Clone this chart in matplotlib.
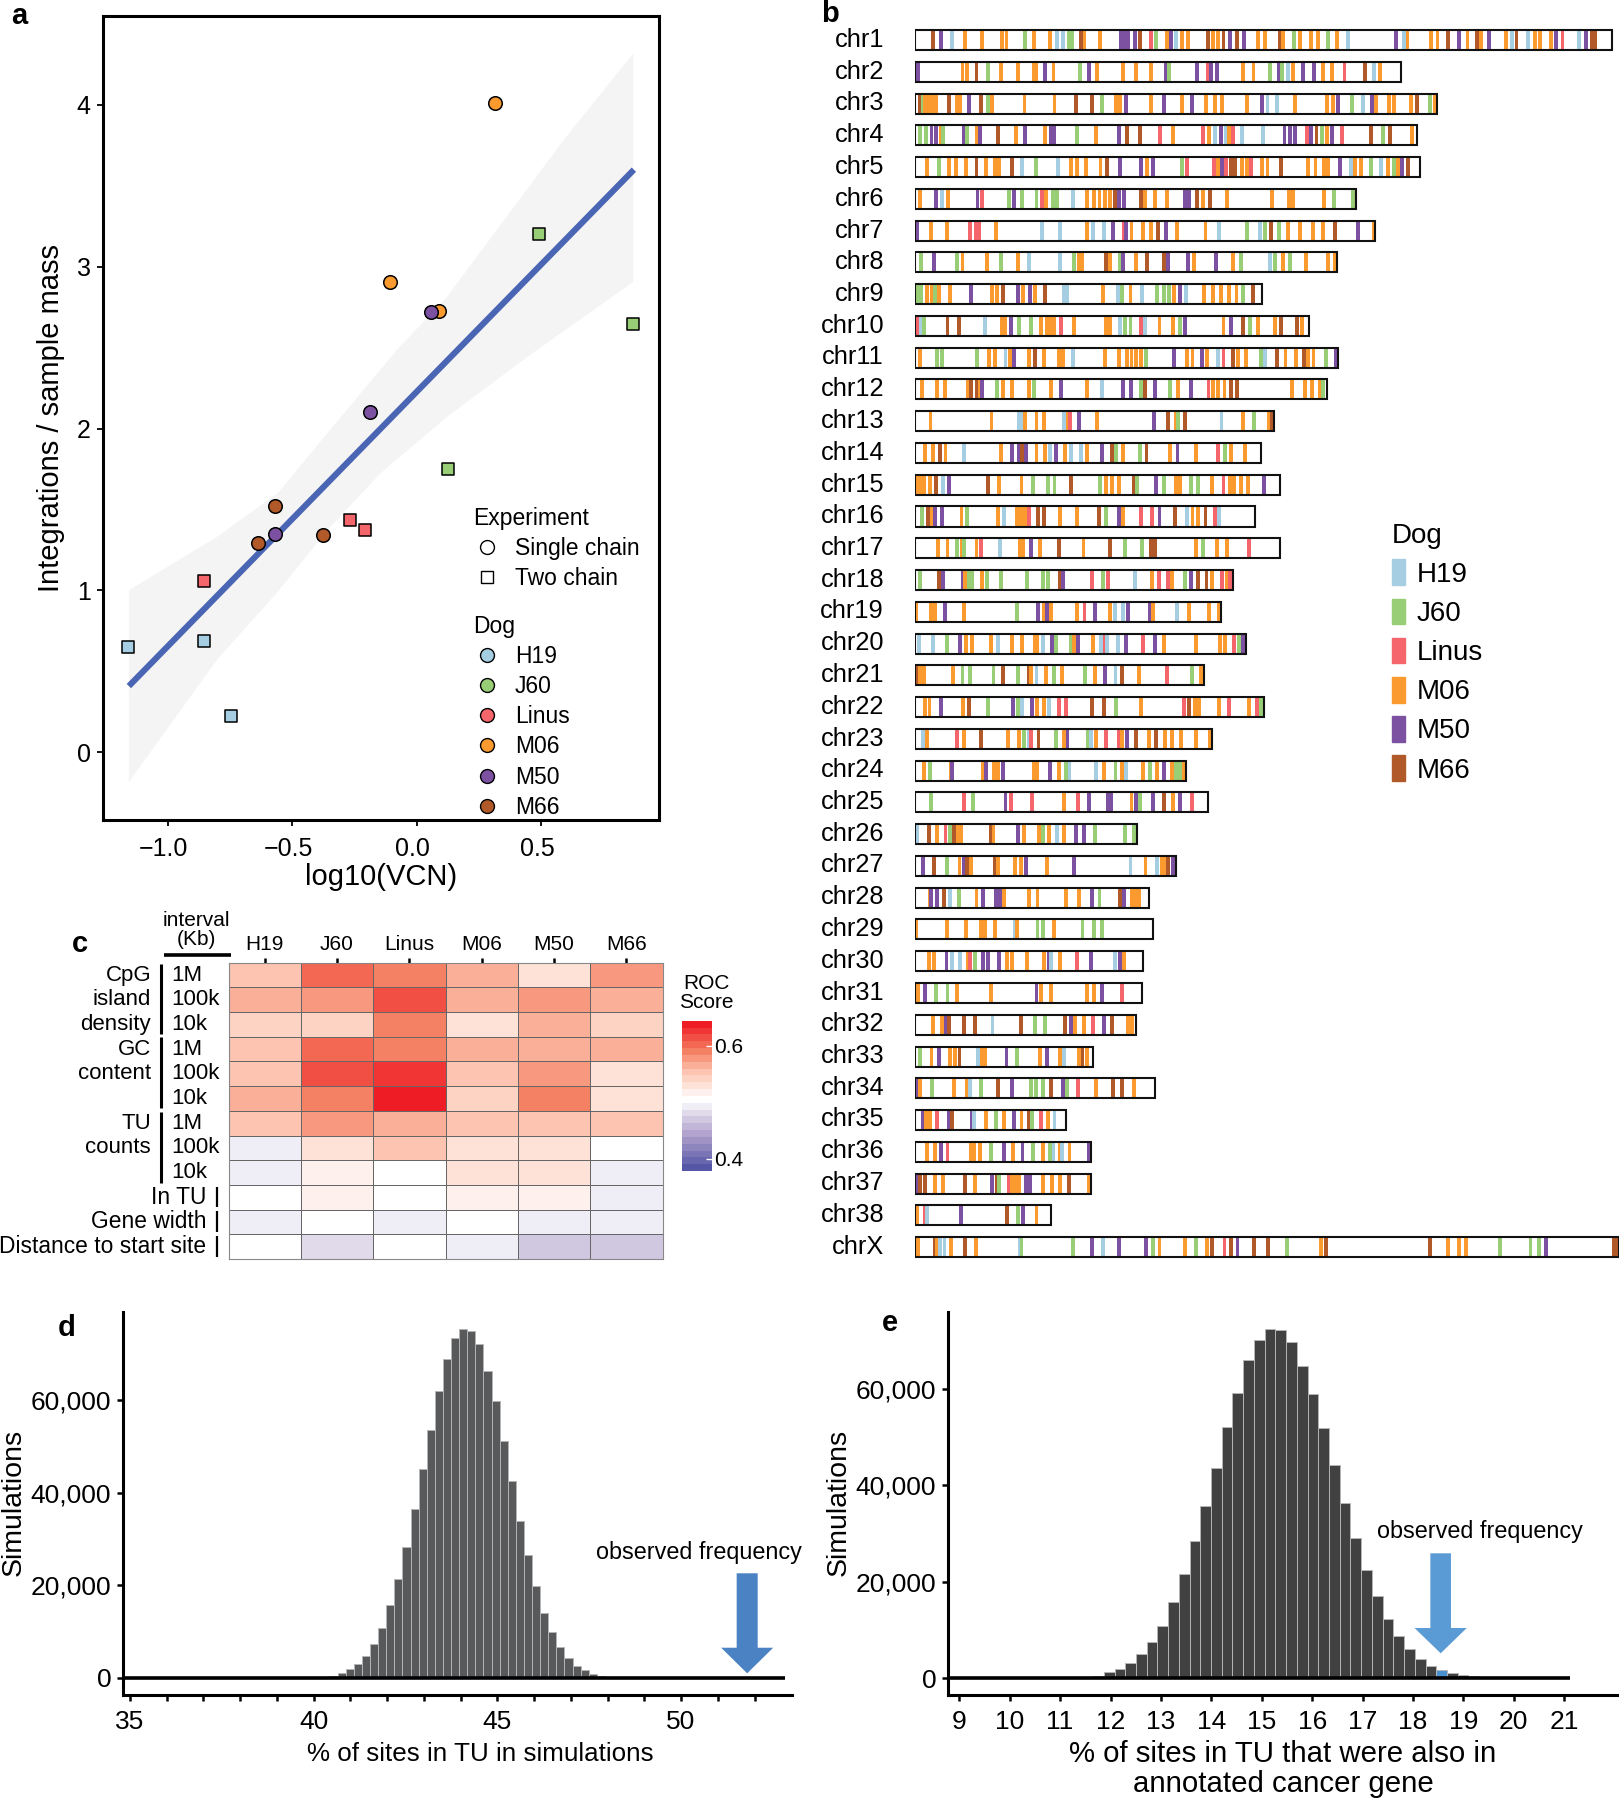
import numpy as np
import matplotlib
matplotlib.use("Agg")
import matplotlib.pyplot as plt
from matplotlib.colors import LinearSegmentedColormap
from matplotlib.lines import Line2D
from matplotlib.patches import FancyArrow, Patch
from matplotlib.transforms import ScaledTranslation

plt.rcParams['font.family'] = ['Liberation Sans', 'DejaVu Sans']

W = 1619
H = 1800

dog_names = ['H19', 'J60', 'Linus', 'M06', 'M50', 'M66']
dog_colors = ['#A6CEE3', '#98CE76', '#F4666B', '#FB9A2F', '#7D51A1', '#B15928']

# panel a
h19_vcn = [-1.16, -0.857, -0.746]
h19_int = [0.65, 0.685, 0.224]
linus_vcn = [-0.857, -0.267, -0.206]
linus_int = [1.06, 1.434, 1.37]
j60_vcn = [0.125, 0.491, 0.869]
j60_int = [1.75, 3.2, 2.644]
m06_vcn = [0.314, -0.106, 0.09]
m06_int = [4.014, 2.903, 2.726]
m50_vcn = [0.059, -0.186, -0.57]
m50_int = [2.72, 2.1, 1.349]
m66_vcn = [-0.57, -0.639, -0.376]
m66_int = [1.52, 1.295, 1.342]
fit_x = [-1.157, 0.873]
fit_y = [0.408, 3.60]
ci_hi_x = [-1.157, -0.803, -0.559, -0.349, -0.08, 0.12, 0.589, 0.871]
ci_hi = [1.0, 1.33, 1.60, 1.99, 2.485, 2.81, 3.78, 4.32]
ci_lo_x = [-1.157, -0.803, -0.559, -0.349, -0.148, 0.12, 0.455, 0.871]
ci_lo = [-0.185, 0.57, 0.99, 1.39, 1.72, 2.07, 2.454, 2.907]

dog_keys = {'H': 0, 'J': 1, 'L': 2, 'O': 3, 'P': 4, 'B': 5}
chr_names = ['chr%d' % i for i in range(1, 39)] + ['chrX']
chr_start = 203
chr_end = [1552, 1143, 1213, 1174, 1180, 1056, 1094, 1020, 875, 965, 1021, 1000, 898,
           873, 909, 860, 909, 818, 795, 843, 763, 879, 778, 728, 770, 632, 708, 656,
           664, 645, 642, 630, 548, 667, 495, 543, 543, 466, 1565]

chr1_sites = "238B 253P 275H 300O 333O 372O 380O 416J 434O 465O 478H 489H 500J 507J 524B 531O 561O 602P 608P 616P 628P 639B 660L 669J 690O 698P 708H 720O 732O 770B 780O 790O 800B 813P 826B 840P 866O 880O 910B 915O 937J 948O 970O 982O 1003J 1020O 1041H 1133P 1150H 1156O 1201O 1214O 1235B 1256P 1272O 1290B 1298O 1313P 1347O 1358H 1367B 1389H 1403O 1412O 1433O 1444P 1456L 1488H 1501P 1513B 1519B".split()
chr2_sites = "209P 295O 303O 322B 344J 369O 402O 434O 438O 454P 471O 523J 540P 556O 606O 630O 660O 688P 695J 748P 770L 775P 787P 838O 858O 890J 908P 913J 925H 935O 953P 975P 992O 1010O 1034L 1073B 1091H 1102O".split()
chr3_sites = "212B 218J 222O 230O 238O 243O 269B 284O 291O 308P 331B 345J 352O 415O 473O 515B 545B 564J 592O 600O 611P 660O 684P 720O 739P 766O 783O 797O 845O 875P 885H 904H 939O 1000O 1012O 1022P 1048J 1070H 1088P 1095O 1120O 1130O 1162O 1174B 1200J 1210O".split()
chr4_sites = "212J 224J 235P 243P 253O 258J 297P 303J 322O 328P 363B 398O 416P 454O 467P 473P 516J 553O 598P 614B 638B 677L 703O 760L 772O 783H 795P 804H 810O 818L 835H 876H 918P 928P 938P 962L 970P 980B 990J 1000O 1010P 1030L 1086B 1109J 1122B 1165O".split()
chr5_sites = "226O 250J 268O 282O 302O 322B 341O 358O 366O 391B 410H 437J 479H 505O 517O 534O 562O 574B 600P 640P 652O 664P 720J 729L 782L 790O 797P 804L 815B 822B 835O 845O 853L 875O 885O 912B 964O 978O 995O 1002O 1026P 1047H 1055O 1066O 1085J 1105H 1118O 1130J 1138O 1145P 1157B".split()
chr6_sites = "213O 244P 255H 267O 324P 333L 385J 395P 410J 438J 448L 457O 470J 478J 509H 535O 550O 560O 570O 580O 590B 598P 608P 640B 648O 668O 690O 725P 733P 748B 760O 773B 807O 893O 926O 935O 995O 1014J 1050J".split()
chr7_sites = "207P 234O 265O 310L 321L 327L 360O 448H 484H 536O 548H 569H 586P 607L 612P 622O 645O 660O 673B 688P 710O 765O 792H 845J 870H 880J 892B 908J 925O 948O 973O 993O 1015B 1060P 1092O".split()
chr8_sites = "215J 240P 284J 295O 342O 369J 402O 423H 483H 511J 520O 526O 572B 580O 600J 606P 630O 652B 684B 692P 732P 743O 786P 818O 834J 890H 900J 915O 928J 960O 1003O 1015O".split()
chr9_sites = "208J 215J 226O 235O 242J 250O 270O 312P 352O 362O 374B 402P 412O 426P 436O 455B 492H 498H 566O 595H 603J 620O 643H 672J 684J 695J 705O 716P 727H 763O 780O 795O 810O 825O 838J 857B".split()
chr10_sites = "207L 215H 221J 266B 288B 338H 372O 378O 388P 405J 428J 447O 458O 467O 473O 486L 511O 572O 580O 600H 610J 620J 640L 648H 676O 702O 716J 725P 800O 815P 838B 851J 867O 900O 912B 943B 952O".split()
chr11_sites = "212O 245J 256J 323J 346O 357O 378H 386O 395P 424O 435B 452O 482O 490O 509H 571O 598O 614O 622O 630O 640O 650J 704P 730O 740O 758P 768O 790H 800L 818B 828O 843O 872J 880H 904B 920O 940O 956B 964O 974O 999J 1017P".split()
chr12_sites = "217O 245O 261O 305O 312B 322B 328O 333P 362J 374O 391O 423O 433J 466O 486P 536O 565H 606P 621P 640J 648B 667P 696J 712O 737P 771L 780O 790O 802O 815B 826B 933O 958O 972O 986O 992J".split()
chr13_sites = "233O 351O 404H 410H 416O 438O 452O 491H 498O 503L 520P 555O 666P 692B 707O 712J 725B 796H 838O 859J 887O 894B".split()
chr14_sites = "223O 238O 252B 262O 298H 369O 390P 404P 410B 417P 438O 455O 465H 475P 493O 505H 525H 536O 565P 584B 592J 605O 638J 651B 696O 711P 746O 790L 803J 815O 842O".split()
chr15_sites = "209O 215O 221O 232O 243B 257H 269P 345B 365O 409O 431J 460J 473J 505B 561J 572O 584O 597O 627B 632J 670P 684J 708O 716O 737J 751J 778O 800L 813O 821O 834O 847O 879P".split()
chr16_sites = "216J 228B 235O 242P 255P 293O 303J 364O 375H 400O 408O 416O 424L 441B 453B 483O 516O 559B 572J 597P 605O 640L 662L 676P 706B 729H 740O 750O 765B 783L 791H".split()
chr17_sites = "247O 266O 284J 293O 298J 322O 331L 367H 406O 412O 427P 445O 481B 529O 581B 609J 643J 660B 668B 747O 761J 788O 807O 850L".split()
chr18_sites = "213J 250B 258P 295P 300O 308J 313J 333O 342J 370J 420J 451J 460J 483B 490P 545L 566J 576L 628H 662O 675L 693L 700O 726J 737P 750B 767B 778O 797L 806O 813L".split()
chr19_sites = "205O 234O 242O 261P 297O 401J 441P 452O 458P 466O 516O 531L 552P 580O 590H 606H 615P 658P 663O 710H 733O 772O 791O".split()
chr20_sites = "211H 237H 265J 290P 302O 313O 350O 363H 390O 410O 435O 440O 451H 468P 476J 505J 510O 519P 547O 563H 570L 575H 595H 612P 645L 668P 685O 746O 793O 803O 820L 830J 838P".split()
chr21_sites = "207B 213O 221O 276O 295J 310J 355J 373B 403J 423B 428O 438H 456O 472J 487O 532J 552O 571P 591H 603B 636O 690L 739J 757O".split()
chr22_sites = "222O 231O 253P 296O 308B 345J 393P 403J 410H 430P 439O 453O 463H 482L 495L 546B 569B 592J 641O 723L 734B 745O 753O 791O 810L 849O 865L 873J".split()
chr23_sites = "218H 227O 284L 297O 331B 383O 405O 414J 423H 428L 442B 476J 492O 498P 537J 543H 553O 572L 597L 603O 614P 631B 655O 670B 687O 700O 717O 747O 773O".split()
chr24_sites = "221O 232J 272O 275P 334O 341P 356O 364O 373P 433O 440O 464P 481O 495J 502H 553H 568O 591J 603O 612H 644O 658J 671O 684P 700O 708J 715J 723O".split()
chr25_sites = "234J 297L 316J 378P 389L 429L 491O 518L 540P 576P 583P 622O 630P 639J 664P 684B 703O 716P 739L".split()
chr26_sites = "207H 230B 245O 262L 270J 279B 287O 293O 350B 355O 402P 414O 443O 451J 462O 477H 491O 515P 530P 551J 610J 627J".split()
chr27_sites = "219P 240B 265J 289O 298P 303B 311O 357B 363O 396O 408O 418P 458O 511P 620H 649O 672H 680O 686O 693B 702P".split()
chr28_sites = "231O 234P 245P 259B 270H 288J 322O 335P 360P 368P 375O 423O 440O 496O 520O 546P 560J 599B 608P 622O 628O 636O".split()
chr29_sites = "205O 265O 301O 331O 339O 358O 396H 401O 440J 451J 472O 527J 550J 564J".split()
chr30_sites = "230O 240O 264P 274H 290H 305O 309L 319J 334P 344P 366P 381O 391O 419O 452O 463P 467H 483O 517L 544P 590H 599P 607O".split()
chr31_sites = "209O 223P 244J 266J 285O 350O 438P 446O 467O 535O 549O 565P 604L".split()
chr32_sites = "237O 255O 262P 268B 297B 319B 353H 408B 436J 454J 493B 505P 513O 530O 547L 568P 584B 616O 623O".split()
chr33_sites = "213J 235O 250P 270O 280O 289B 325H 333O 339O 380P 400J 445O 458P 484O 491H 520O 527B 535O".split()
chr34_sites = "209P 213O 236J 278O 303O 310H 331J 364B 391P 428J 437J 451J 467B 490P 497J 518L 554O 586B 603B 627O".split()
chr35_sites = "218P 225O 232O 246L 268P 275B 313P 318H 340O 360J 376O 394P 409O 424B 430J 447L 460O 473H".split()
chr36_sites = "226O 241O 253P 266L 311O 318O 329O 350J 375P 392O 411P 431J 451O 465J 471H 483O 488H 502O 540P".split()
chr37_sites = "207P 212B 222B 242O 258O 300B 319O 352P 362B 365J 385L 391O 399O 405O 417P 425P 450O 468O 483O 501B 540O".split()
chr38_sites = "207O 222L 227H 292P 381B 402J 412P 438O".split()
chrX_sites = "209O 241B 246O 252H 260H 272O 300B 321O 407H 409J 508J 546P 566H 598P 650P 664J 676O 725O 746J 768O 778B 802L 815B 827P 859B 886B 923J 988O 999B 1199B 1235O 1256O 1269O 1335J 1394J 1411J 1424P 1556B 1560B".split()

chr_sites = [chr1_sites, chr2_sites, chr3_sites, chr4_sites, chr5_sites, chr6_sites, chr7_sites,
             chr8_sites, chr9_sites, chr10_sites, chr11_sites, chr12_sites, chr13_sites, chr14_sites,
             chr15_sites, chr16_sites, chr17_sites, chr18_sites, chr19_sites, chr20_sites, chr21_sites,
             chr22_sites, chr23_sites, chr24_sites, chr25_sites, chr26_sites, chr27_sites, chr28_sites,
             chr29_sites, chr30_sites, chr31_sites, chr32_sites, chr33_sites, chr34_sites, chr35_sites,
             chr36_sites, chr37_sites, chr38_sites, chrX_sites]

# panel c
roc_scores = [
    [.555, .600, .585, .565, .535, .575],
    [.570, .580, .610, .560, .575, .570],
    [.545, .545, .590, .530, .570, .545],
    [.550, .605, .595, .565, .570, .560],
    [.555, .610, .620, .550, .580, .535],
    [.565, .595, .644, .540, .595, .530],
    [.550, .575, .565, .555, .555, .550],
    [.494, .530, .550, .525, .530, .503],
    [.498, .522, .508, .525, .525, .488],
    [.507, .518, .505, .520, .520, .488],
    [.492, .508, .498, .505, .498, .495],
    [.507, .478, .505, .488, .472, .470],
]
interval_labels = ['1M', '100k', '10k', '1M', '100k', '10k', '1M', '100k', '10k']
group_labels = ['CpG', 'island', 'density', 'GC', 'content', '', 'TU', 'counts', '']
single_labels = ['In TU', 'Gene width', 'Distance to start site']

# panel d
d_first_bin = 40.54
d_bin = 0.2206
d_counts = [500, 1150, 1870, 3090, 4750, 7410, 10860, 15680, 21440, 28270, 36550, 45110, 53450,
            61940, 68920, 73310, 75250, 74960, 72160, 66330, 59780, 51150, 42590, 33810, 26470,
            19930, 14100, 9930, 6690, 4390, 2590, 1650, 860, 430]
d_observed = 51.8

# panel e
e_first_bin = 11.76
e_bin = 0.2128
e_counts = [480, 1170, 1800, 3040, 4970, 7530, 10780, 15820, 21550, 28390, 35650, 43590, 52020,
            59130, 65830, 70120, 72330, 72120, 69700, 64660, 58790, 51880, 44070, 36200, 28950,
            22310, 17060, 12300, 8770, 6010, 3940, 2560, 1660, 1040, 550, 350, 200]
e_observed = 18.55
e_observed_bin = 32


def px_axes(left, top, right, bottom):
    return fig.add_axes([left / W, 1 - bottom / H, (right - left) / W, (bottom - top) / H])


fig = plt.figure(figsize=(W / 100, H / 100), dpi=100)

ov = fig.add_axes([0, 0, 1, 1], zorder=5)
ov.set_xlim(0, W)
ov.set_ylim(H, 0)
ov.axis('off')
ov.patch.set_alpha(0)

for letter, x, y in [('a', 19, 16), ('b', 830, 14), ('c', 80, 944), ('d', 67, 1328), ('e', 890, 1323)]:
    ov.text(x, y, letter, fontsize=21, fontweight='bold', ha='center', va='center')

# a
ax = px_axes(103, 16, 659, 820)
ax.set_xlim(-1.261, 0.974)
ax.set_ylim(-0.42, 4.55)
ax.fill(ci_hi_x + ci_lo_x[::-1], ci_hi + ci_lo[::-1], color='#F4F4F4', lw=0)
ax.plot(fit_x, fit_y, color='#4A65B3', lw=4.4, solid_capstyle='butt')
square_groups = [(h19_vcn, h19_int, 0), (j60_vcn, j60_int, 1), (linus_vcn, linus_int, 2)]
circle_groups = [(m06_vcn, m06_int, 3), (m50_vcn, m50_int, 4), (m66_vcn, m66_int, 5)]
for xs, ys, c in square_groups:
    ax.scatter(xs, ys, s=80, marker='s', color=dog_colors[c], edgecolor='black', linewidth=1.1, zorder=3)
for xs, ys, c in circle_groups:
    ax.scatter(xs, ys, s=95, marker='o', color=dog_colors[c], edgecolor='black', linewidth=1.1, zorder=3)
ax.set_xticks([-1.0, -0.5, 0.0, 0.5])
ax.set_yticks([0, 1, 2, 3, 4])
ax.tick_params(labelsize=18, length=4, width=1.3, pad=5)
ax.tick_params(axis='x', pad=8)
for lbl in ax.get_xticklabels():
    lbl.set_transform(lbl.get_transform() + ScaledTranslation(-4 / 100, 0, fig.dpi_scale_trans))
ax.set_xlabel('log10(VCN)', fontsize=21, labelpad=2)
ax.set_ylabel('Integrations / sample mass', fontsize=21, labelpad=8)
for s in ax.spines.values():
    s.set_linewidth(2.2)

exp_handles = [Line2D([], [], ls='', marker='o', ms=10, mfc='white', mec='black', mew=1.0, label='Single chain'),
               Line2D([], [], ls='', marker='s', ms=9, mfc='white', mec='black', mew=1.0, label='Two chain')]
leg1 = ax.legend(handles=exp_handles, title='Experiment', title_fontsize=16.5, fontsize=16.5, frameon=False,
                 loc='upper left', bbox_to_anchor=(473 / W, 1 - 507 / H), bbox_transform=fig.transFigure,
                 borderpad=0, borderaxespad=0, labelspacing=0.3, handletextpad=0.63, handlelength=1.2,
                 alignment='left')
ax.add_artist(leg1)
dog_handles = [Line2D([], [], ls='', marker='o', ms=10, mfc=c, mec='black', mew=1.0, label=n)
               for n, c in zip(dog_names, dog_colors)]
ax.legend(handles=dog_handles, title='Dog', title_fontsize=16.5, fontsize=16.5, frameon=False,
          loc='upper left', bbox_to_anchor=(473 / W, 1 - 615 / H), bbox_transform=fig.transFigure,
          borderpad=0, borderaxespad=0, labelspacing=0.31, handletextpad=0.63, handlelength=1.2,
          alignment='left')

# b
axb = px_axes(915, 24, 1619, 1263)
axb.set_xlim(chr_start, chr_start + 704 * 1.935)
axb.set_ylim(38.5, -0.504)
for i, sites in enumerate(chr_sites):
    pos = [float(s[:-1]) for s in sites]
    cols = [dog_colors[dog_keys[s[-1]]] for s in sites]
    axb.bar(pos, 0.62, bottom=i - 0.31, width=7.5, color=cols, lw=0)
    axb.bar(chr_start, 0.63, bottom=i - 0.315, width=chr_end[i] - chr_start, align='edge',
            fill=False, edgecolor='#111111', lw=1.5)
axb.axis('off')
for i, name in enumerate(chr_names):
    ov.text(884, 40 + 31.75 * i, name, fontsize=18.3, ha='right', va='center')
swatches = [Patch(color=c, label=n) for n, c in zip(dog_names, dog_colors)]
axb.legend(handles=swatches, title='Dog', title_fontsize=20, fontsize=20, frameon=False,
           loc='upper left', bbox_to_anchor=(1392 / W, 1 - 522.5 / H), bbox_transform=fig.transFigure,
           borderpad=0, borderaxespad=0, labelspacing=0.39, handleheight=1.05, handlelength=0.45,
           handletextpad=0.45, alignment='left')

# c
cmap = LinearSegmentedColormap.from_list(
    'roc', [(0, '#5557A6'), (0.23, '#AFA1CC'), (0.477, '#FFFFFF'), (0.68, '#FCC0AB'),
            (0.83, '#F4775A'), (1, '#EE1C25')], N=22)
axc = px_axes(228.5, 962.7, 662.5, 1259)
mesh = axc.pcolormesh(np.array(roc_scores), cmap=cmap, vmin=0.378, vmax=0.644,
                      edgecolors='#666666', linewidth=0.7)
axc.set_ylim(12, 0)
axc.xaxis.tick_top()
axc.set_xticks(np.arange(6) + 0.5)
axc.set_xticklabels(dog_names, fontsize=15)
axc.set_yticks([])
axc.tick_params(axis='x', length=3.6, width=1.8, pad=3)
for s in axc.spines.values():
    s.set_color('#888888')
    s.set_linewidth(0.8)

row_h = (1259 - 962.7) / 12
for i in range(9):
    y = 962.7 + row_h * (i + 0.5)
    ov.text(171, y, interval_labels[i], fontsize=16, ha='left', va='center')
    ov.text(151, y, group_labels[i], fontsize=16, ha='right', va='center')
for y0, y1 in [(964, 1034), (1037, 1108), (1112, 1183)]:
    ov.plot([161, 161], [y0, y1], color='black', lw=2.2, solid_capstyle='butt')
for i, y0, y1 in [(9, 1187, 1207), (10, 1211, 1232), (11, 1236, 1257)]:
    ov.text(206.5, 962.7 + row_h * (i + 0.5), single_labels[i - 9], fontsize=16.4, ha='right', va='center')
    ov.plot([217, 217], [y0, y1], color='black', lw=1.6, solid_capstyle='butt')
ov.text(196, 930, 'interval\n(Kb)', fontsize=15, ha='center', va='center', linespacing=1.0)
ov.plot([163.5, 230.5], [955, 955], color='black', lw=2.6, solid_capstyle='butt')
ov.text(706, 993, 'ROC\nScore', fontsize=15, ha='center', va='center', linespacing=1.05)

cax = px_axes(681.5, 1020.7, 711.5, 1171)
cb = fig.colorbar(mesh, cax=cax, ticks=[0.4, 0.6], drawedges=False)
cb.outline.set_visible(False)
cb.ax.tick_params(direction='in', color='white', length=4, width=1, labelsize=15, pad=2)

# d
axd = px_axes(123, 1312, 792, 1695)
axd.set_xlim(34.81, 53.02)
axd.set_ylim(-3670, 78960)
d_x = d_first_bin + d_bin * np.arange(len(d_counts))
axd.bar(d_x, d_counts, width=d_bin, color='#58595B', edgecolor='#B5B5B5', linewidth=0.7)
axd.hlines(0, 34.81, 52.83, color='black', lw=2.6, zorder=4)
axd.add_patch(FancyArrow(d_observed, 22590, 0, -21580, width=0.572, head_width=1.416, head_length=5520,
                         length_includes_head=True, color='#4A82C4', lw=0, zorder=5))
axd.text(50.49, 27180, 'observed frequency', fontsize=16.8, ha='center', va='center')
axd.set_xticks(np.arange(35, 53))
axd.set_xticklabels([str(v) if v % 5 == 0 else '' for v in range(35, 53)])
axd.set_xlabel('% of sites in TU in simulations', fontsize=18.7)
axd.xaxis.set_label_coords((480 - 123) / (792 - 123), -(1754 - 1695) / (1695 - 1312), transform=axd.transAxes)
axd.xaxis.label.set_va('center')

# e
axe = px_axes(948, 1312, 1618.6, 1695)
axe.set_xlim(8.776, 22.08)
axe.set_ylim(-3523, 75855)
e_x = e_first_bin + e_bin * np.arange(len(e_counts))
e_cols = ['#414141'] * len(e_counts)
e_cols[e_observed_bin] = '#4A90D0'
axe.bar(e_x, e_counts, width=e_bin, color=e_cols, edgecolor='#B5B5B5', linewidth=0.7)
axe.hlines(0, 8.776, 21.12, color='black', lw=2.6, zorder=4)
axe.add_patch(FancyArrow(e_observed, 25845, 0, -20725, width=0.409, head_width=1.036, head_length=5240,
                         length_includes_head=True, color='#5B9BD5', lw=0, zorder=5))
axe.text(19.33, 30320, 'observed frequency', fontsize=16.8, ha='center', va='center')
axe.set_xticks(np.arange(9, 22))
axe.set_xlabel('% of sites in TU that were also in\nannotated cancer gene', fontsize=21.2, linespacing=1.13)
axe.xaxis.set_label_coords((1283 - 948) / (1618.6 - 948), -(1769 - 1695) / (1695 - 1312), transform=axe.transAxes)
axe.xaxis.label.set_va('center')

for a in (axd, axe):
    a.spines['top'].set_visible(False)
    a.spines['right'].set_visible(False)
    a.spines['left'].set_linewidth(2.2)
    a.spines['bottom'].set_linewidth(2.2)
    a.set_yticks([0, 20000, 40000, 60000])
    a.set_yticklabels(['0', '20,000', '40,000', '60,000'])
    a.tick_params(labelsize=19, length=4.5, width=1.8, pad=4)
    a.tick_params(axis='x', pad=6)
ov.text(13.5, 1502, 'Simulations', fontsize=20.5, rotation=90, ha='center', va='center')
ov.text(839, 1502, 'Simulations', fontsize=20.5, rotation=90, ha='center', va='center')

fig.savefig('out.png', dpi=100)
